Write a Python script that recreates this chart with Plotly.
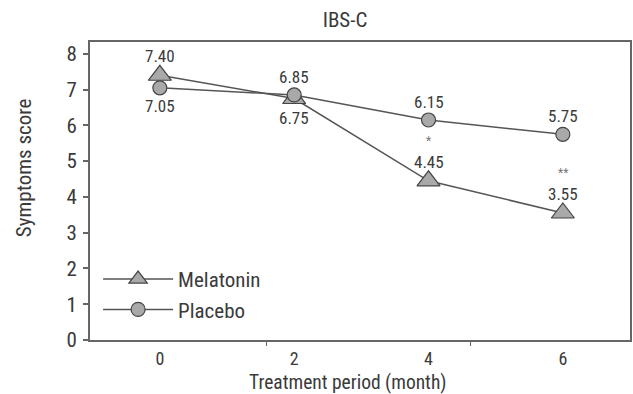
import plotly.graph_objects as go

months = [0, 2, 4, 6]
melatonin = [7.40, 6.75, 4.45, 3.55]
placebo = [7.05, 6.85, 6.15, 5.75]
melatonin_labels = ["7.40", "6.75", "4.45", "3.55"]
placebo_labels = ["7.05", "6.85", "6.15", "5.75"]
significance = ["", "", "*", "**"]
y_ticks = [0, 1, 2, 3, 4, 5, 6, 7, 8]

FONT = "Liberation Sans Narrow, Arial Narrow, Roboto Condensed, Liberation Sans, Arial, sans-serif"
LINE = "#555555"
FILL = "#a9a9a9"
TXT = "#3a3a3a"

fig = go.Figure()
fig.add_trace(go.Scatter(
    x=months, y=melatonin, name="Melatonin", mode="lines+markers",
    line=dict(color=LINE, width=1.5),
    marker=dict(symbol="triangle-up", size=20, color=FILL, line=dict(color="#444444", width=1.2)),
))
fig.add_trace(go.Scatter(
    x=months, y=placebo, name="Placebo", mode="lines+markers",
    line=dict(color=LINE, width=1.5),
    marker=dict(symbol="circle", size=14, color=FILL, line=dict(color="#444444", width=1.2)),
))

# data labels (above / below the points)
mel_side = [1, -1, 1, 1]
pla_side = [-1, 1, 1, 1]
ann = []
for x, y, t, s in zip(months, melatonin, melatonin_labels, mel_side):
    ann.append(dict(x=x, y=y, text=t, showarrow=False, yshift=19 * s,
                    font=dict(size=17, color=TXT, family=FONT)))
for x, y, t, s in zip(months, placebo, placebo_labels, pla_side):
    ann.append(dict(x=x, y=y, text=t, showarrow=False, yshift=18 * s,
                    font=dict(size=17, color=TXT, family=FONT)))
for x, y, t in zip(months, melatonin, significance):
    if t:
        ann.append(dict(x=x, y=y, text=t, showarrow=False, yshift=40,
                        font=dict(size=12, color="#777777", family=FONT)))

# axis titles
ann.append(dict(text="Treatment period (month)", xref="paper", yref="paper",
                x=0.478, y=-0.141, xanchor="center", yanchor="middle", showarrow=False,
                font=dict(size=19.5, color=TXT, family=FONT)))
ann.append(dict(text="Symptoms score", xref="paper", yref="paper", textangle=-90,
                x=-0.122, y=0.577, xanchor="center", yanchor="middle", showarrow=False,
                font=dict(size=21, color=TXT, family=FONT)))

fig.update_layout(
    width=633, height=394,
    margin=dict(l=90, r=1, t=42, b=54),
    paper_bgcolor="white", plot_bgcolor="white",
    font=dict(family=FONT, color=TXT, size=20),
    title=dict(text="IBS-C", x=0.545, xref="container", xanchor="center",
               y=1 - 20 / 394, yref="container", yanchor="middle",
               font=dict(size=21, color=TXT, family=FONT)),
    showlegend=True,
    legend=dict(x=0.015, y=0.272, xanchor="left", yanchor="top", itemwidth=70,
                bgcolor="rgba(0,0,0,0)", font=dict(size=21, color=TXT, family=FONT),
                tracegroupgap=0),
    annotations=ann,
    xaxis=dict(range=[-1.04, 7], tickvals=months, ticktext=[str(m) for m in months],
               ticks="", showgrid=False, zeroline=False,
               showline=True, linecolor="#666666", linewidth=2, mirror=True,
               ticklabelstandoff=1,
               tickfont=dict(size=18, color=TXT)),
    xaxis2=dict(range=[-1.04, 7], overlaying="x", side="bottom", tickvals=[1.585, 4.62],
                ticktext=["", ""], ticks="outside", ticklen=5, tickcolor="#666666",
                showgrid=False, zeroline=False, showline=False),
    yaxis=dict(range=[0, 8.33], tickvals=y_ticks, ticks="outside", ticklen=5,
               tickcolor="#666666", tickwidth=1.5, showgrid=False, zeroline=False,
               showline=True, linecolor="#666666", linewidth=2, mirror=True,
               ticklabelstandoff=2,
               tickfont=dict(size=21, color=TXT)),
)
# invisible helper trace so the overlaid tick axis is drawn
fig.add_trace(go.Scatter(x=[months[0]], y=[melatonin[0]], xaxis="x2", mode="markers",
                         marker=dict(opacity=0), showlegend=False, hoverinfo="skip"))

fig.write_html("out.html", config={"displayModeBar": False},
               post_script="document.body.style.margin='0px';")
